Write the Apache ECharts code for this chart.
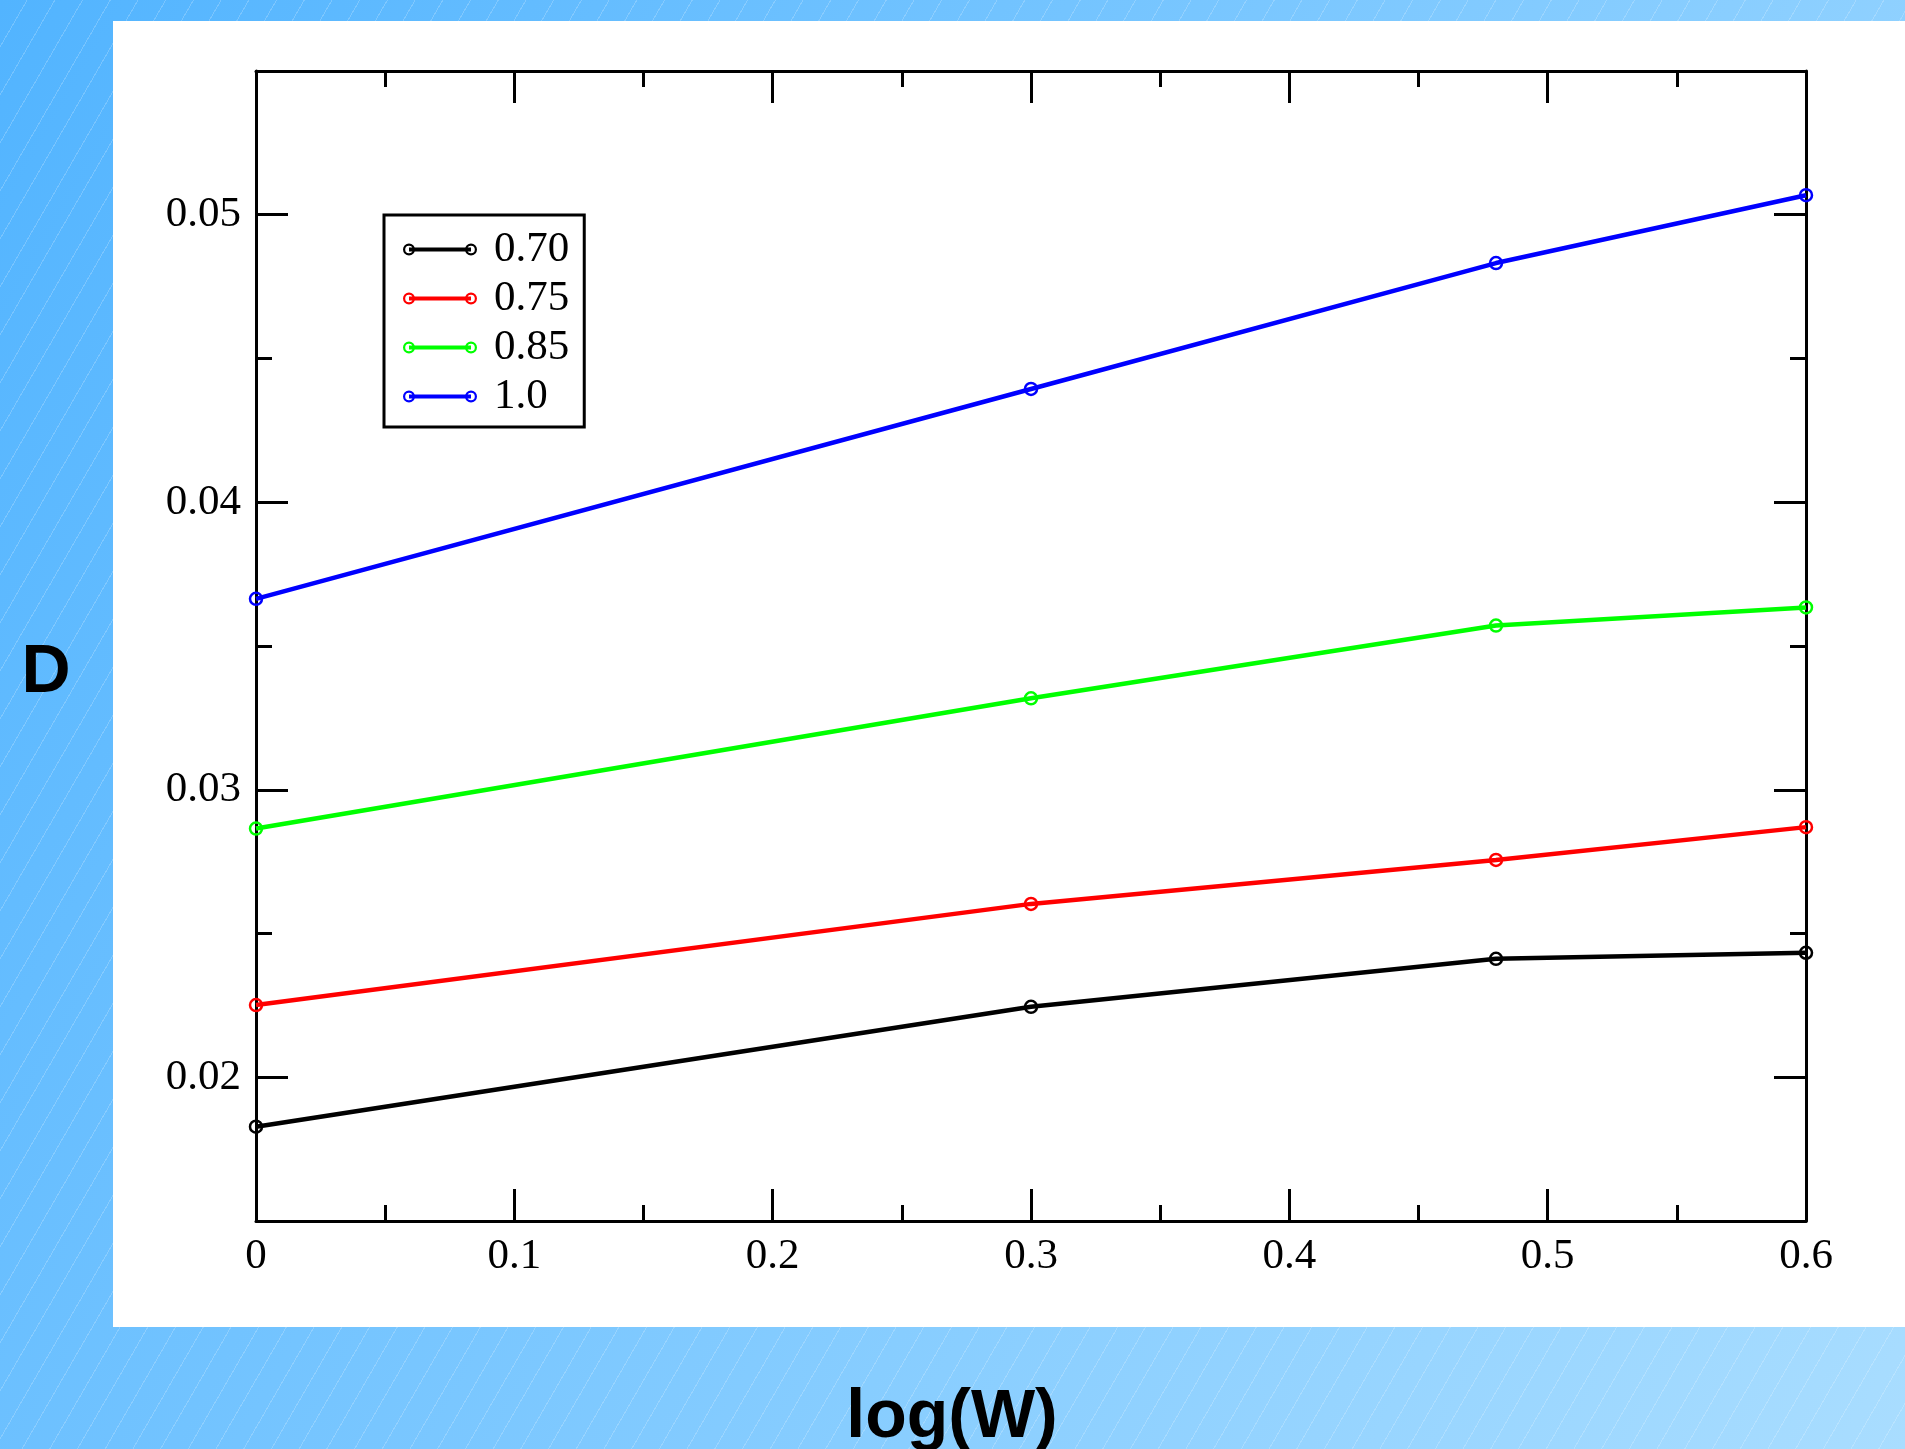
<!DOCTYPE html>
<html>
<head>
<meta charset="utf-8">
<script src="https://cdn.jsdelivr.net/npm/echarts@6.0.0/dist/echarts.min.js"></script>
<style>
  html, body { margin: 0; padding: 0; overflow: hidden; }
  #bg {
    position: absolute; left: 0; top: 0; width: 1905px; height: 1449px;
    background:
      repeating-linear-gradient(120deg, rgba(255,255,255,0) 0px, rgba(255,255,255,0) 23px, rgba(255,255,255,0.2) 23px, rgba(255,255,255,0.2) 24px),
      linear-gradient(120deg, #52b4ff 0%, #a9ddff 100%);
  }
  #panel { position: absolute; left: 113px; top: 21px; width: 1792px; height: 1306px; background: #ffffff; }
  #chart { position: absolute; left: 0; top: 0; width: 1905px; height: 1449px; }
</style>
</head>
<body>
<div id="bg"></div>
<div id="panel"></div>
<div id="chart"></div>
<script>
// ---- data ----
const logW = [0, 0.3, 0.48, 0.6];
const seriesNames = ['0.70', '0.75', '0.85', '1.0'];
const d070 = [0.01828, 0.02245, 0.02412, 0.02433];
const d075 = [0.02251, 0.02603, 0.02756, 0.02870];
const d085 = [0.02865, 0.03318, 0.03571, 0.03634];
const d100 = [0.03664, 0.04394, 0.04832, 0.05068];
const seriesColors = ['#000000', '#ff0000', '#00ff00', '#0000ff'];
const yMajorTicks = [0.02, 0.03, 0.04, 0.05];
const yMinorTicks = [0.025, 0.035, 0.045];
const xMin = 0, xMax = 0.6, xStep = 0.1;
const yMin = 0.015, yMax = 0.055;
const xTitle = 'log(W)';
const yTitle = 'D';

const allData = [d070, d075, d085, d100];

const serifFont = '"Liberation Serif", "Times New Roman", serif';
const AX = '#000000';

function xAxisCfg(pos, showLabel) {
  return {
    type: 'value', position: pos, min: xMin, max: xMax, interval: xStep,
    axisLine: { show: true, lineStyle: { color: AX, width: 3 } },
    axisTick: { show: true, inside: true, length: 32, lineStyle: { color: AX, width: 3 } },
    minorTick: { show: true, splitNumber: 2, length: 16, lineStyle: { color: AX, width: 3 } },
    axisLabel: { show: showLabel, color: '#000', fontFamily: serifFont, fontSize: 43, margin: 14 },
    splitLine: { show: false }, minorSplitLine: { show: false }
  };
}
function yAxisCfg(pos, ticks, len, showLine, showLabel) {
  return {
    type: 'value', position: pos, min: yMin, max: yMax,
    axisLine: { show: showLine, onZero: false, lineStyle: { color: AX, width: 3 } },
    axisTick: { show: true, inside: true, length: len, customValues: ticks, lineStyle: { color: AX, width: 3 } },
    axisLabel: { show: showLabel, customValues: ticks, color: '#000', fontFamily: serifFont, fontSize: 43, margin: 15 },
    splitLine: { show: false }
  };
}

const legendIcon = 'path://M0,6A6,6,0,1,1,12,6A6,6,0,1,1,0,6Z M2.2,6A3.8,3.8,0,1,0,9.8,6A3.8,3.8,0,1,0,2.2,6Z M62,6A6,6,0,1,1,74,6A6,6,0,1,1,62,6Z M64.2,6A3.8,3.8,0,1,0,71.8,6A3.8,3.8,0,1,0,64.2,6Z M6,4L68,4L68,8L6,8Z';

const chart = echarts.init(document.getElementById('chart'), null, { renderer: 'canvas' });
chart.setOption({
  backgroundColor: 'transparent',
  animation: false,
  grid: { left: 256, top: 71, right: 99, bottom: 228, containLabel: false },
  xAxis: [xAxisCfg('bottom', true), xAxisCfg('top', false)],
  yAxis: [
    yAxisCfg('left', yMajorTicks, 32, true, true),
    yAxisCfg('right', yMajorTicks, 32, true, false),
    yAxisCfg('left', yMinorTicks, 16, false, false),
    yAxisCfg('right', yMinorTicks, 16, false, false)
  ],
  legend: {
    show: true, orient: 'vertical', left: 384, top: 215,
    padding: [13, 15, 9, 19], itemGap: 6, itemWidth: 74, itemHeight: 12,
    icon: legendIcon, borderColor: '#000', borderWidth: 3, backgroundColor: '#fff',
    textStyle: { color: '#000', fontFamily: serifFont, fontSize: 43, lineHeight: 42, padding: [0, 0, 0, 12] },
    data: seriesNames.map((n, i) => ({ name: n, itemStyle: { color: seriesColors[i], borderWidth: 0 } })),
    selectedMode: false
  },
  series: seriesNames.map((n, i) => ({
    name: n, type: 'line', xAxisIndex: 0, yAxisIndex: 0,
    data: logW.map((x, j) => [x, allData[i][j]]),
    symbol: 'circle', symbolSize: 12, clip: false,
    lineStyle: { color: seriesColors[i], width: 4.5 },
    itemStyle: { color: 'transparent', borderColor: seriesColors[i], borderWidth: 2.5 },
    emphasis: { disabled: true }
  })),
  graphic: [
    { type: 'text', x: 46, y: 673, style: { text: yTitle, font: 'bold 68px "Liberation Sans", Arial, sans-serif', fill: '#000', align: 'center', verticalAlign: 'middle' } },
    { type: 'text', x: 952, y: 1418, style: { text: xTitle, font: 'bold 68px "Liberation Sans", Arial, sans-serif', fill: '#000', align: 'center', verticalAlign: 'middle' } }
  ]
});
</script>
</body>
</html>
